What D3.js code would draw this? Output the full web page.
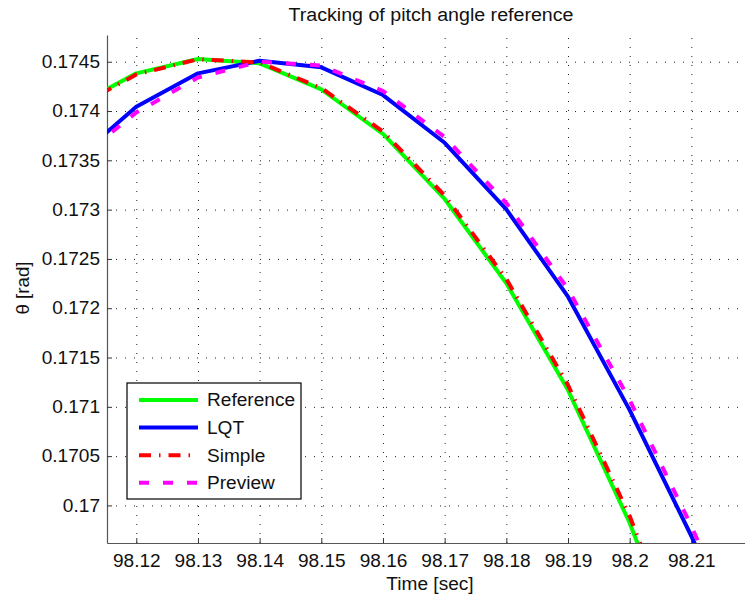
<!DOCTYPE html>
<html>
<head>
<meta charset="utf-8">
<script src="https://cdn.jsdelivr.net/npm/d3@7"></script>
<style>
  body { margin: 0; background: #fff; }
  svg { display: block; font-family: "Liberation Sans", Arial, Helvetica, sans-serif; }
</style>
</head>
<body>
<div id="chart"></div>
<script>
// sample times (s)
const time = [98.11, 98.12, 98.13, 98.14, 98.15, 98.16, 98.17, 98.18, 98.19, 98.20, 98.21, 98.22];

// pitch angle (rad)
const reference = [0.174045, 0.174382, 0.174527, 0.174484, 0.174220, 0.173767, 0.173108, 0.172253, 0.171170, 0.169822, 0.168199, null];
const lqt       = [0.173503, 0.174044, 0.174382, 0.174510, 0.174443, 0.174162, 0.173678, 0.173003, 0.172117, 0.170967, 0.169690, 0.168270];
const simple    = [0.174030, 0.174370, 0.174525, 0.174492, 0.174233, 0.173792, 0.173143, 0.172296, 0.171221, 0.169892, 0.168270, null];
const preview   = [0.173483, 0.173985, 0.174340, 0.174500, 0.174461, 0.174203, 0.173736, 0.173067, 0.172195, 0.171069, 0.169791, 0.168371];

const xTicks = [98.12, 98.13, 98.14, 98.15, 98.16, 98.17, 98.18, 98.19, 98.20, 98.21];
const xTickLabels = ["98.12", "98.13", "98.14", "98.15", "98.16", "98.17", "98.18", "98.19", "98.2", "98.21"];
const yTicks = [0.17, 0.1705, 0.171, 0.1715, 0.172, 0.1725, 0.173, 0.1735, 0.174, 0.1745];
const yTickLabels = ["0.17", "0.1705", "0.171", "0.1715", "0.172", "0.1725", "0.173", "0.1735", "0.174", "0.1745"];

const seriesNames = ["Reference", "LQT", "Simple", "Preview"];

const W = 745, H = 603;
const margin = {top: 35, right: 0, bottom: 60, left: 107};
const width = W - margin.left - margin.right;
const height = H - margin.top - margin.bottom;
const fontSize = "18px";

// the printed glyphs are a bit wider than Arial, stretch text to match
function stretch(sel, k) {
    sel.each(function() {
        const w = this.getComputedTextLength();
        d3.select(this).attr("textLength", w * k).attr("lengthAdjust", "spacingAndGlyphs");
    });
}

const svg = d3.select("#chart").append("svg")
    .attr("width", W)
    .attr("height", H);

const x = d3.scaleLinear().domain([98.11525, 98.2187]).range([0, width]);
const y = d3.scaleLinear().domain([0.169619, 0.174771]).range([height, 0]);

const g = svg.append("g").attr("transform", `translate(${margin.left},${margin.top})`);

svg.append("defs").append("clipPath").attr("id", "plot-clip")
    .append("rect").attr("width", width).attr("height", height);

// dotted grid
g.append("g")
    .attr("class", "grid")
    .attr("transform", `translate(0,${height})`)
    .call(d3.axisBottom(x).tickValues(xTicks).tickSize(-height).tickFormat(""))
    .call(a => a.select(".domain").remove());
g.append("g")
    .attr("class", "grid")
    .call(d3.axisLeft(y).tickValues(yTicks).tickSize(-width).tickFormat(""))
    .call(a => a.select(".domain").remove());
g.selectAll(".grid line")
    .attr("stroke", "#222")
    .attr("stroke-width", 1)
    .attr("stroke-dasharray", "1,8");

// axes with inward ticks
const xAxis = g.append("g")
    .attr("transform", `translate(0,${height})`)
    .call(d3.axisBottom(x).tickValues(xTicks).tickFormat((d, i) => xTickLabels[i])
        .tickSize(-5).tickSizeOuter(0).tickPadding(11));
const yAxis = g.append("g")
    .call(d3.axisLeft(y).tickValues(yTicks).tickFormat((d, i) => yTickLabels[i])
        .tickSize(-5).tickSizeOuter(0).tickPadding(7));

[xAxis, yAxis].forEach(a => {
    a.select(".domain").attr("stroke", "#555").attr("stroke-width", 1.2);
    a.selectAll(".tick line").attr("stroke", "#333");
    a.selectAll("text")
        .attr("fill", "#111")
        .style("font-size", fontSize)
        .style("font-family", '"Liberation Sans", Arial, sans-serif')
        .call(stretch, 1.06);
});

// lines
const styles = [
    {data: reference, color: "#00ff00", dash: null},
    {data: lqt,       color: "#0000ff", dash: null},
    {data: simple,    color: "#ff0000", dash: "12,8,1.5,8"},
    {data: preview,   color: "#ff00ff", dash: "10,14"}
];

const line = d3.line()
    .defined(d => d.v != null)
    .x(d => x(d.t))
    .y(d => y(d.v));

const plot = g.append("g").attr("clip-path", "url(#plot-clip)");
styles.forEach(s => {
    plot.append("path")
        .datum(time.map((t, i) => ({t: t, v: s.data[i]})))
        .attr("fill", "none")
        .attr("stroke", s.color)
        .attr("stroke-width", 4)
        .attr("stroke-linejoin", "round")
        .attr("stroke-dasharray", s.dash)
        .attr("d", line);
});

// title and axis labels
svg.append("text")
    .attr("x", 431)
    .attr("y", 21)
    .attr("text-anchor", "middle")
    .style("font-size", fontSize)
    .attr("fill", "#111")
    .text("Tracking of pitch angle reference")
    .call(stretch, 1.09);

svg.append("text")
    .attr("x", 430)
    .attr("y", 590)
    .attr("text-anchor", "middle")
    .style("font-size", fontSize)
    .attr("fill", "#111")
    .text("Time [sec]")
    .call(stretch, 1.06);

svg.append("text")
    .attr("transform", "translate(29,288) rotate(-90)")
    .attr("text-anchor", "middle")
    .style("font-size", fontSize)
    .attr("fill", "#111")
    .text("θ [rad]")
    .call(stretch, 1.04);

// legend
const legend = svg.append("g").attr("transform", "translate(127,383)");
legend.append("rect")
    .attr("width", 174)
    .attr("height", 116)
    .attr("fill", "#fff")
    .attr("stroke", "#000")
    .attr("stroke-width", 1.2);

const items = legend.selectAll(".item")
    .data(seriesNames)
    .enter().append("g")
    .attr("transform", (d, i) => `translate(0,${17 + i * 27.6})`);
items.append("line")
    .attr("x1", 12).attr("x2", 71)
    .attr("stroke", (d, i) => styles[i].color)
    .attr("stroke-width", 4)
    .attr("stroke-dasharray", (d, i) => styles[i].dash);
items.append("text")
    .attr("x", 80)
    .attr("dy", "0.35em")
    .style("font-size", fontSize)
    .attr("fill", "#111")
    .text(d => d)
    .call(stretch, 1.06);
</script>
</body>
</html>
